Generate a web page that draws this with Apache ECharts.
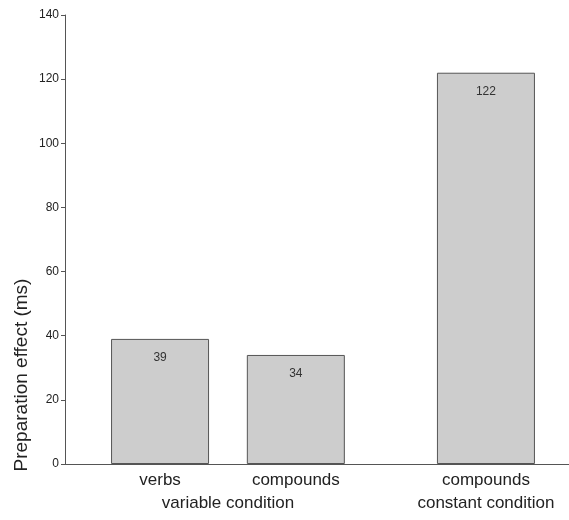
<!DOCTYPE html>
<html>
<head>
<meta charset="utf-8">
<script src="https://cdn.jsdelivr.net/npm/echarts@6/dist/echarts.min.js"></script>
<style>html,body{margin:0;padding:0;background:#fff}#c{width:569px;height:520px}</style>
</head>
<body>
<div id="c"></div>
<script>
// Data
var categories = ['verbs', 'compounds', 'compounds'];
var values = [39, 34, 122];
var groups = ['variable condition', 'constant condition'];
var yTicks = [0, 20, 40, 60, 80, 100, 120, 140];
var yName = 'Preparation effect (ms)';

// Layout: slot index of each bar on a 19-slot axis, and of each group label on a 39-point axis
var barSlots = [3, 8, 15];
var groupSlots = [12, 31];
var nSlots = 19, nGroupSlots = 39;

var slotNames = [], slotValues = [];
for (var i = 0; i < nSlots; i++) { slotNames.push('gap' + i); slotValues.push(null); }
barSlots.forEach(function (s, k) { slotNames[s] = 'cat' + k; slotValues[s] = values[k]; });
var groupNames = [];
for (var j = 0; j < nGroupSlots; j++) groupNames.push('g' + j);
groupSlots.forEach(function (s, k) { groupNames[s] = 'grp' + k; });

function catLabel(v) {
  if (v.indexOf('cat') === 0) return categories[+v.slice(3)];
  return '';
}
function grpLabel(v) {
  if (v.indexOf('grp') === 0) return groups[+v.slice(3)];
  return '';
}

var chart = echarts.init(document.getElementById('c'));
chart.setOption({
  backgroundColor: '#fff',
  animation: false,
  textStyle: { fontFamily: 'Liberation Sans, Arial, sans-serif' },
  grid: { left: 65, top: 15, width: 516, bottom: 56, containLabel: false, outerBoundsMode: 'none' },
  xAxis: [{
    type: 'category',
    data: slotNames,
    boundaryGap: true,
    axisLine: { lineStyle: { color: '#555', width: 1 } },
    axisTick: { length: 4, alignWithLabel: true, lineStyle: { color: '#555' }, interval: function (idx, v) { return v.indexOf('cat') === 0; } },
    axisLabel: { interval: 0, formatter: catLabel, color: '#222', fontSize: 17, margin: 8 },
    splitLine: { show: false }
  }, {
    type: 'category',
    position: 'bottom',
    offset: 23,
    data: groupNames,
    boundaryGap: false,
    axisLine: { show: false },
    axisTick: { show: false },
    axisLabel: { interval: 0, formatter: grpLabel, color: '#222', fontSize: 17, margin: 8 },
    splitLine: { show: false }
  }],
  yAxis: {
    type: 'value',
    min: 0, max: 140, interval: 20,
    name: yName,
    nameLocation: 'middle',
    nameGap: 34,
    nameMoveOverlap: false,
    nameTextStyle: { fontSize: 19, color: '#222', padding: [0, 271, 0, 0] },
    axisLine: { show: true, lineStyle: { color: '#555', width: 1 } },
    axisTick: { show: true, length: 4, lineStyle: { color: '#555' } },
    axisLabel: { color: '#222', fontSize: 12, margin: 6, formatter: function (v) { return yTicks.indexOf(v) >= 0 ? String(v) : ''; } },
    splitLine: { show: false }
  },
  series: [{
    type: 'bar',
    xAxisIndex: 0,
    data: slotValues,
    barWidth: 98,
    clip: false,
    itemStyle: { color: '#cdcdcd', borderColor: '#555', borderWidth: 1 },
    label: { show: true, position: 'insideTop', distance: 13, color: '#333', fontSize: 12 }
  }]
});
</script>
</body>
</html>
